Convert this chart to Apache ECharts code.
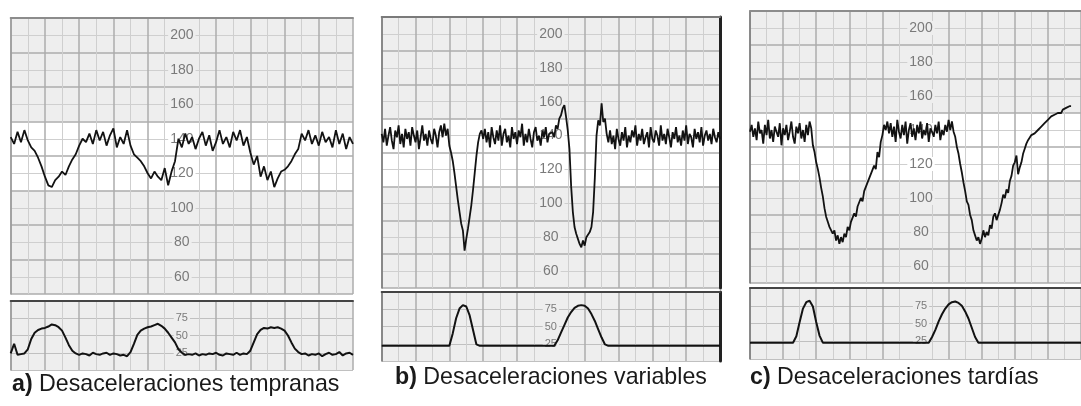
<!DOCTYPE html>
<html>
<head>
<meta charset="utf-8">
<title>Desaceleraciones</title>
<script src="https://cdn.jsdelivr.net/npm/echarts@6/dist/echarts.min.js"></script>
<style>
  html, body { margin: 0; padding: 0; background: #fff; }
  #chart { width: 1081px; height: 406px; }
</style>
</head>
<body>
<div id="chart"></div>
<script>
// FHR traces (lpm). A: one value per x unit, B and C: one value per half unit
const fhrA = [141,137,144,138,145,139,135,133,129,124,
  118,113,112,116,118,121,119,124,128,131,
  136,140,138,143,137,145,139,144,136,142,
  146,135,141,137,145,136,131,129,127,124,
  120,117,121,118,116,123,113,121,127,140,
  135,143,137,141,134,140,144,136,142,133,
  138,145,137,141,135,144,139,145,136,141,
  132,125,130,118,124,116,121,112,117,121,
  122,124,127,131,134,143,139,145,137,142,
  136,144,138,141,135,145,137,143,134,141,
  137]
const fhrB = [141,136,144,134,140,145,137,132,143,139,
  146,135,141,133,144,138,142,134,145,140,
  136,143,132,139,146,137,141,134,143,138,
  135,144,140,133,142,146,139,147,140,144,
  134,
  130,125,118,110,102,95,88,84,72,79,85,92,99,108,118,128,136,141,143,
  138,144,136,142,133,145,139,135,143,137,
  146,134,141,144,136,140,133,145,138,142,
  135,143,139,147,134,141,136,144,138,133,
  142,145,137,140,134,143,139,145,136,141,
  140,
  142,139,146,144,150,152,156,158,151,143,
  132,110,95,86,82,79,76,74,78,75,
  80,79,83,86,95,115,140,149,146,159,
  148,150,141,136,
  143,135,140,132,144,138,134,142,137,145,
  133,140,136,143,139,146,134,141,137,144,
  135,139,142,133,145,138,136,143,140,134,
  146,137,141,135,144,139,133,142,138,145,
  136,140,134,143,137,146,135,141,139,133,
  144,138,142,136,145,134,140,143,137,141,
  135,144,139,136,142,138]
const fhrC = [139,143,136,141,134,145,138,140,132,143,
  137,146,135,140,133,142,139,136,144,131,
  141,137,143,134,139,145,136,132,142,138,
  144,135,140,133,143,137,145,141,
  131,127,121,117,112,106,101,94,89,86,
  83,84,79,81,75,78,73,77,74,79,
  77,83,81,86,85,91,89,95,94,100,
  98,104,103,109,108,114,113,119,117,127,
  124,133,137,143,140,145,
  138,144,136,142,133,146,139,135,143,137,
  145,132,140,144,136,141,134,143,138,145,
  135,140,137,144,133,141,139,136,143,138,
  145,134,140,137,143,139,146,140,
  145,139,136,130,126,120,115,109,104,98,
  96,90,87,81,78,75,77,73,76,81,
  77,80,78,84,82,89,91,87,90,93,
  97,102,100,105,103,110,113,119,121,125,
  114,118,121,126,129,132,134,135,137,136,
  138,139,140,140,142,141,144,144,146,146,
  148,147,149,149,150,151,150,152,152,153,
  153,154,154]

// uterine contraction traces, one value per x unit
const tocoA = [24,38,22,23,24,30,45,54,58,60,
  61,63,66,65,62,57,47,36,28,24,
  22,24,23,21,25,23,22,24,25,22,
  24,23,21,22,20,26,38,51,57,60,
  62,63,65,67,64,60,54,47,40,30,
  25,22,23,22,24,21,23,22,24,23,
  25,22,21,24,23,22,25,22,24,23,
  28,40,52,58,61,60,62,61,62,60,
  57,50,40,31,26,23,24,21,23,22,
  24,20,23,25,22,23,26,21,24,25,
  22]
const tocoB = [22,22,22,22,22,22,22,22,22,22,
  22,22,22,22,22,22,22,22,22,22,
  22,40,62,76,81,79,66,45,24,22,
  22,22,22,22,22,22,22,22,22,22,
  22,22,22,22,22,22,22,22,22,22,
  22,22,30,41,52,63,71,77,80,81,
  80,76,68,58,46,34,24,22,22,22,
  22,22,22,22,22,22,22,22,22,22,
  22,22,22,22,22,22,22,22,22,22,
  22,22,22,22,22,22,22,22,22,22,
  22]
const tocoC = [23,23,23,23,23,23,23,23,23,23,
  23,23,23,23,32,52,71,80,82,74,
  52,33,23,23,23,23,23,23,23,23,
  23,23,23,23,23,23,23,23,23,23,
  23,23,23,23,23,23,23,23,23,23,
  23,23,23,23,23,31,41,53,63,71,
  77,80,81,79,75,67,57,44,31,23,
  23,23,23,23,23,23,23,23,23,23,
  23,23,23,23,23,23,23,23,23,23,
  23,23,23,23,23,23,23,23,23,23,
  23]

const fhrRange = [50, 210]
const fhrLabels = [60, 80, 100, 120, 140, 160, 180, 200]
const tocoRange = [0, 100]
const tocoLabels = [25, 50, 75]
const normalBand = [110, 150]
const captionTags = ["a)", "b)", "c)"]
const captionTexts = ["Desaceleraciones tempranas", "Desaceleraciones variables", "Desaceleraciones tardías"]

const MAJOR = "#adadad"
const MINOR = "#cfcfcf"
const CELL = "#eeeeee"
const FONT = "Liberation Sans, Arial, sans-serif"

const grid = [], xAxis = [], yAxis = [], series = []

function hiddenParts() {
  return {
    axisTick: { show: false },
    axisLabel: { show: false },
    splitLine: { show: false }
  }
}

function borderAxis(list, g, pos, style, range) {
  if (!style) return
  list.push(Object.assign({
    gridIndex: g, type: "value", min: range[0], max: range[1], position: pos, z: 3,
    axisLine: { show: true, onZero: false, lineStyle: style }
  }, hiddenParts()))
}

function addStrip(box, cfg) {
  const g = grid.length
  grid.push({ left: box[0], top: box[1], width: box[2], height: box[3], show: false })

  const xTicks = []
  for (let v = 0; v <= 100; v += 10) xTicks.push(v)
  const xi = xAxis.length
  xAxis.push({
    gridIndex: g, type: "value", min: 0, max: 100, interval: 10, position: "bottom", z: 1,
    axisLine: { show: false, onZero: false }, axisTick: { show: false }, axisLabel: { show: false },
    splitLine: { show: true, lineStyle: { color: xTicks.map(v => v === 50 ? "rgba(0,0,0,0)" : MAJOR), width: 1.5 } },
    minorTick: { show: false, splitNumber: 2 },
    minorSplitLine: { show: true, lineStyle: { color: MINOR, width: 1 } }
  })
  borderAxis(xAxis, g, "top", cfg.top, [0, 100])

  const areas = []
  for (let v = cfg.range[0]; v < cfg.range[1]; v += cfg.major) {
    areas.push(cfg.band && v >= cfg.band[0] && v < cfg.band[1] ? "#ffffff" : CELL)
  }
  const yi = yAxis.length
  yAxis.push({
    gridIndex: g, type: "value", min: cfg.range[0], max: cfg.range[1], interval: cfg.major,
    position: "left", z: 0,
    axisLine: { show: false, onZero: false }, axisTick: { show: false }, axisLabel: { show: false },
    splitArea: { show: true, areaStyle: { color: areas, opacity: 1 } },
    splitLine: { show: true, lineStyle: { color: cfg.minorSplit > 1 ? MAJOR : "#c0c0c0", width: cfg.minorSplit > 1 ? 1.5 : 1 } },
    minorTick: { show: false, splitNumber: cfg.minorSplit },
    minorSplitLine: { show: cfg.minorSplit > 1, lineStyle: { color: MINOR, width: 1 } }
  })
  borderAxis(yAxis, g, "left", cfg.left, cfg.range)
  borderAxis(yAxis, g, "right", cfg.right, cfg.range)

  // tick labels sit in the middle column of the strip
  yAxis.push({
    gridIndex: g, type: "value", min: cfg.range[0], max: cfg.range[1], interval: cfg.labelStep,
    position: "left", offset: -box[2] / 2, z: 2,
    axisLine: { show: false, onZero: false }, axisTick: { show: false }, splitLine: { show: false },
    axisLabel: {
      show: true, align: "center", margin: 0,
      formatter: v => {
        if (!cfg.labels.includes(v)) return ""
        const white = cfg.band && v > cfg.band[0] && v < cfg.band[1]
        return "{" + (white ? "w" : "g") + "|" + v + "}"
      },
      rich: {
        g: { color: "#7a7a7a", fontSize: cfg.fontSize, fontFamily: FONT, backgroundColor: CELL, padding: [0, 2] },
        w: { color: "#7a7a7a", fontSize: cfg.fontSize, fontFamily: FONT, backgroundColor: "#ffffff", padding: [0, 2] }
      }
    }
  })

  series.push({
    type: "line", xAxisIndex: xi, yAxisIndex: yi, z: 5, silent: true,
    showSymbol: false, symbol: "none",
    lineStyle: { color: "#121212", width: cfg.lineWidth },
    data: cfg.values.map((v, i) => [i * cfg.step, v])
  })
}

const panels = [
  { fhr: fhrA, step: 1, toco: tocoA,
    top: [10.7, 18, 342.3, 276], bottom: [10.7, 301, 342.3, 69],
    topLine: { color: "#8c8c8c", width: 2 }, leftLine: { color: "#9a9a9a", width: 1.5 }, rightLine: null,
    captionLeft: 12, captionTop: 373 },
  { fhr: fhrB, step: 0.5, toco: tocoB,
    top: [381.7, 17, 338.3, 271], bottom: [381.7, 292, 338.3, 69],
    topLine: { color: "#7a7a7a", width: 2 }, leftLine: { color: "#777", width: 1.5 }, rightLine: { color: "#222", width: 3 },
    captionLeft: 395, captionTop: 366 },
  { fhr: fhrC, step: 0.5, toco: tocoC,
    top: [750, 11, 342, 272], bottom: [750, 288, 342, 71],
    topLine: { color: "#8c8c8c", width: 2 }, leftLine: { color: "#777", width: 1.5 }, rightLine: null,
    captionLeft: 750, captionTop: 366 }
]

panels.forEach(p => {
  addStrip(p.top, {
    range: fhrRange, major: 20, minorSplit: 2, band: normalBand, labelStep: 10, labels: fhrLabels,
    fontSize: 14, values: p.fhr, step: p.step, lineWidth: 1.8,
    top: p.topLine, left: p.leftLine, right: p.rightLine
  })
  addStrip(p.bottom, {
    range: tocoRange, major: 25, minorSplit: 1, band: null, labelStep: 25, labels: tocoLabels,
    fontSize: 11, values: p.toco, step: 1, lineWidth: 2,
    top: { color: "#444", width: 2 }, left: p.leftLine, right: p.rightLine
  })
})

const title = panels.map((p, i) => ({
  text: "{b|" + captionTags[i] + "} " + captionTexts[i],
  left: p.captionLeft, top: p.captionTop, padding: 0,
  textStyle: {
    fontFamily: FONT, fontSize: 23.2, fontWeight: "normal", color: "#1a1a1a", lineHeight: 24,
    rich: { b: { fontFamily: FONT, fontSize: 23.2, fontWeight: "bold", color: "#1a1a1a", lineHeight: 24 } }
  }
}))

const chart = echarts.init(document.getElementById("chart"))
chart.setOption({
  animation: false,
  backgroundColor: "#ffffff",
  title: title,
  grid: grid,
  xAxis: xAxis,
  yAxis: yAxis,
  series: series
})
</script>
</body>
</html>
